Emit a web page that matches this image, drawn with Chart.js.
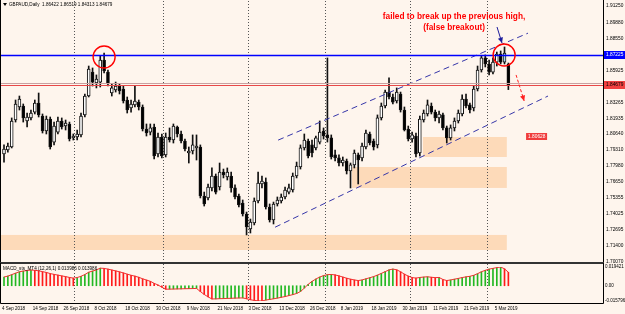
<!DOCTYPE html>
<html>
<head>
<meta charset="utf-8">
<script src="https://cdn.jsdelivr.net/npm/chart.js@4.4.1/dist/chart.umd.min.js"></script>
<style>
html, body { margin: 0; padding: 0; background: #FEF5ED; overflow: hidden; }
#wrap { position: relative; width: 625px; height: 314px; background: #FEF5ED; }
#main { position: absolute; left: 0; top: 0; }
#macd { position: absolute; left: 0; top: 263px; }
</style>
</head>
<body>
<div id="wrap">
  <canvas id="main" width="625" height="264"></canvas>
  <canvas id="macd" width="625" height="51"></canvas>
</div>
<script>
// GBPAUD daily, 4 Sep 2018 .. 8 Mar 2019 (132 bars)
const opens = [1.7897,1.7930,1.7955,1.8179,1.8287,1.8295,1.8171,1.8196,1.8245,1.8320,
  1.8212,1.8088,1.8187,1.7996,1.8079,1.8171,1.8129,1.8146,1.8030,1.8038,
  1.8055,1.8221,1.8378,1.8577,1.8486,1.8494,1.8677,1.8577,1.8403,1.8428,
  1.8461,1.8436,1.8345,1.8279,1.8304,1.8328,1.8287,1.8104,1.8079,1.8121,
  1.7897,1.8038,1.7889,1.8038,1.8013,1.8121,1.8063,1.8005,1.7905,1.7922,
  1.7947,1.7955,1.7548,1.7532,1.7615,1.7714,1.7623,1.7747,1.7706,1.7714,
  1.7615,1.7548,1.7490,1.7399,1.7274,1.7324,1.7507,1.7648,1.7664,1.7457,
  1.7349,1.7482,1.7507,1.7540,1.7581,1.7598,1.7714,1.7789,1.7947,1.8005,
  1.7972,1.7947,1.7996,1.8088,1.8055,1.8030,1.7889,1.7864,1.7822,1.7839,
  1.7756,1.7806,1.7889,1.7864,1.7955,1.8063,1.8005,1.7972,1.8196,1.8295,
  1.8411,1.8370,1.8337,1.8395,1.8262,1.8104,1.8021,1.8046,1.7905,1.8179,
  1.8229,1.8295,1.8245,1.8196,1.8221,1.8113,1.8030,1.8113,1.8171,1.8229,
  1.8353,1.8304,1.8279,1.8436,1.8594,1.8694,1.8644,1.8577,1.8660,1.8727,
  1.8660,1.86422];
const highs = [1.7972,1.7988,1.8196,1.8345,1.8378,1.8312,1.8237,1.8262,1.8345,1.8403,
  1.8229,1.8212,1.8204,1.8162,1.8204,1.8196,1.8179,1.8162,1.8063,1.8096,
  1.8237,1.8395,1.8627,1.8611,1.8553,1.8710,1.8735,1.8594,1.8478,1.8494,
  1.8478,1.8461,1.8370,1.8345,1.8461,1.8345,1.8304,1.8146,1.8146,1.8146,
  1.8071,1.8063,1.8071,1.8113,1.8146,1.8129,1.8088,1.8021,1.7955,1.8055,
  1.8055,1.7972,1.7581,1.7648,1.7781,1.7731,1.7822,1.7772,1.7781,1.7747,
  1.7640,1.7565,1.7515,1.7415,1.7357,1.7532,1.7747,1.7714,1.7698,1.7482,
  1.7498,1.7540,1.7565,1.7623,1.7648,1.7739,1.7830,1.7972,1.8063,1.8021,
  1.8013,1.8046,1.8171,1.8113,1.8694,1.8055,1.7930,1.7889,1.7872,1.7855,
  1.7822,1.7930,1.7905,1.7988,1.8096,1.8079,1.8021,1.8221,1.8320,1.8428,
  1.8528,1.8395,1.8445,1.8411,1.8287,1.8129,1.8079,1.8071,1.8212,1.8262,
  1.8345,1.8320,1.8262,1.8254,1.8237,1.8129,1.8138,1.8196,1.8262,1.8387,
  1.8395,1.8320,1.8461,1.8627,1.8710,1.8719,1.8677,1.8694,1.8743,1.8752,
  1.8785,1.86519];
const lows = [1.7830,1.7913,1.7947,1.8162,1.8262,1.8162,1.8121,1.8179,1.8229,1.8204,
  1.8071,1.8063,1.7938,1.7972,1.8063,1.8104,1.8096,1.8005,1.8013,1.8013,
  1.8038,1.8204,1.8370,1.8461,1.8445,1.8453,1.8569,1.8461,1.8378,1.8411,
  1.8395,1.8320,1.8237,1.8245,1.8287,1.8262,1.8088,1.8046,1.8055,1.7855,
  1.7872,1.7864,1.7872,1.7996,1.7988,1.8038,1.7988,1.7922,1.7822,1.7897,
  1.7847,1.7532,1.7465,1.7515,1.7590,1.7565,1.7598,1.7698,1.7681,1.7581,
  1.7523,1.7457,1.7382,1.7225,1.7241,1.7308,1.7490,1.7615,1.7440,1.7332,
  1.7316,1.7465,1.7490,1.7523,1.7565,1.7581,1.7698,1.7772,1.7930,1.7864,
  1.7872,1.7930,1.7980,1.8021,1.7996,1.7855,1.7839,1.7797,1.7797,1.7731,
  1.7615,1.7781,1.7648,1.7839,1.7938,1.7972,1.7930,1.7947,1.8179,1.8279,
  1.8353,1.8312,1.8320,1.8245,1.8088,1.8005,1.7996,1.7872,1.7880,1.8162,
  1.8212,1.8229,1.8171,1.8154,1.8096,1.7988,1.8013,1.8088,1.8154,1.8212,
  1.8279,1.8237,1.8254,1.8420,1.8577,1.8619,1.8553,1.8561,1.8627,1.8644,
  1.8644,1.84313];
const closes = [1.7938,1.7963,1.8171,1.8312,1.8353,1.8196,1.8204,1.8237,1.8320,1.8221,
  1.8088,1.8187,1.7955,1.8129,1.8171,1.8121,1.8154,1.8021,1.8046,1.8063,
  1.8212,1.8378,1.8602,1.8494,1.8519,1.8677,1.8586,1.8478,1.8445,1.8461,
  1.8420,1.8337,1.8262,1.8312,1.8337,1.8287,1.8104,1.8071,1.8113,1.7880,
  1.8038,1.7880,1.8038,1.8013,1.8129,1.8063,1.8005,1.7938,1.7922,1.7972,
  1.7963,1.7548,1.7482,1.7623,1.7714,1.7581,1.7747,1.7723,1.7747,1.7615,
  1.7540,1.7474,1.7399,1.7291,1.7332,1.7507,1.7656,1.7673,1.7457,1.7349,
  1.7482,1.7515,1.7540,1.7598,1.7615,1.7714,1.7797,1.7947,1.8013,1.7880,
  1.7905,1.8030,1.8079,1.8046,1.8030,1.7872,1.7864,1.7822,1.7847,1.7756,
  1.7806,1.7905,1.7847,1.7963,1.8071,1.7988,1.7955,1.8196,1.8295,1.8411,
  1.8370,1.8328,1.8411,1.8262,1.8096,1.8021,1.8055,1.7897,1.8187,1.8237,
  1.8304,1.8245,1.8196,1.8229,1.8113,1.8030,1.8113,1.8171,1.8237,1.8353,
  1.8295,1.8262,1.8436,1.8594,1.8694,1.8644,1.8577,1.8660,1.8727,1.8660,
  1.8735,1.84679];
const macdVals = [0.0090,0.0100,0.0115,0.0130,0.0145,0.0152,0.0158,0.0163,0.0160,0.0155,
  0.0146,0.0138,0.0126,0.0118,0.0110,0.0102,0.0095,0.0086,0.0079,0.0085,
  0.0098,0.0116,0.0140,0.0152,0.0164,0.0182,0.0180,0.0172,0.0163,0.0154,
  0.0144,0.0133,0.0120,0.0109,0.0099,0.0088,0.0072,0.0059,0.0046,0.0025,
  0.0008,-0.0015,-0.0036,-0.0035,-0.0034,-0.0033,-0.0032,-0.0031,-0.0030,-0.0029,
  -0.0028,-0.0060,-0.0090,-0.0115,-0.0137,-0.0136,-0.0134,-0.0133,-0.0131,-0.0130,
  -0.0128,-0.0127,-0.0126,-0.0135,-0.0145,-0.0152,-0.0156,-0.015796,-0.0148,-0.0142,
  -0.0135,-0.0128,-0.0120,-0.0112,-0.0102,-0.0092,-0.0080,-0.0060,-0.0025,0.0015,
  0.0045,0.0070,0.0090,0.0105,0.0115,0.0117,0.0112,0.0102,0.0090,0.0078,
  0.0068,0.0060,0.0054,0.0060,0.0072,0.0083,0.0095,0.0110,0.0128,0.0146,
  0.0164,0.0173,0.0165,0.0145,0.0120,0.0100,0.0085,0.0079,0.0086,0.0090,
  0.0093,0.0088,0.0084,0.0086,0.0065,0.0054,0.0060,0.0068,0.0076,0.0085,
  0.0092,0.0098,0.0108,0.0125,0.0145,0.0160,0.0172,0.0180,0.0188,0.019421,
  0.0175,0.013986];

const priceTicks = [1.91250,1.89880,1.88550,1.85925,1.83265,1.81935,1.80640,1.79310,
  1.77980,1.76650,1.75355,1.74025,1.72695,1.71400,1.70070];
const macdTicks = [0.019421, 0, -0.015796];
const dateLabels = ['4 Sep 2018','14 Sep 2018','26 Sep 2018','8 Oct 2018','18 Oct 2018',
  '30 Oct 2018','9 Nov 2018','21 Nov 2018','3 Dec 2018','13 Dec 2018','26 Dec 2018',
  '8 Jan 2019','18 Jan 2019','30 Jan 2019','11 Feb 2019','21 Feb 2019','5 Mar 2019'];
const dateIdx = [0,8,16,24,32,40,48,56,64,72,80,88,96,104,112,120,128];

// objects drawn on the chart (bar index / price)
const gridIdx = [18.2, 41.3, 63.4, 83.4, 105.5, 125.5];
const zones = [[108.8, 130.6, 1.8038, 1.7872], [90.4, 130.6, 1.7789, 1.7615], [-0.8, 130.6, 1.7225, 1.7100]];
const chanLower = [[70.4, 1.7289], [141.3, 1.8378]];
const chanUpper = [[71.2, 1.8012], [136.1, 1.8900]];
const resistance = 1.87225;
const markLevel = 1.8486;
const circles = [[26, 1.8702], [129.9, 1.8719]];
const blueArrow = [[128.05, 1.8951], [129.35, 1.8818]];
const redArrow = [[133.0, 1.8553], [135.1, 1.8337]];
const noteLines = ['failed to break up the previous high,', '(false breakout)'];
const notePos = [[116.9, 1.9034], [116.9, 1.8943]];
const tagPos = [135.6, 1.8034];
const tagText = '1.80628';

const xMin = -0.78, xMax = 155.58;
const last = closes.length - 1;

Chart.defaults.font.family = '"Liberation Sans", Arial, sans-serif';
Chart.defaults.color = '#000';

function noPad(s) { s.paddingTop = 0; s.paddingBottom = 0; s.paddingLeft = 0; s.paddingRight = 0; }

function drawArrow(ctx, x0, y0, x1, y1, color, dash) {
    ctx.save();
    ctx.strokeStyle = color;
    ctx.fillStyle = color;
    ctx.lineWidth = 1;
    ctx.setLineDash(dash);
    ctx.beginPath();
    ctx.moveTo(x0, y0);
    ctx.lineTo(x1, y1);
    ctx.stroke();
    ctx.setLineDash([]);
    const ang = Math.atan2(y1 - y0, x1 - x0), h = 6;
    ctx.beginPath();
    ctx.moveTo(x1, y1);
    ctx.lineTo(x1 - h * Math.cos(ang - 0.45), y1 - h * Math.sin(ang - 0.45));
    ctx.lineTo(x1 - h * Math.cos(ang + 0.45), y1 - h * Math.sin(ang + 0.45));
    ctx.closePath();
    ctx.fill();
    ctx.restore();
}

function drawGrid(chart, top, bottom) {
    const {ctx, scales: {x}} = chart;
    ctx.save();
    ctx.strokeStyle = '#555';
    ctx.lineWidth = 1;
    ctx.setLineDash([1, 2]);
    gridIdx.forEach(g => {
        const gx = Math.round(x.getPixelForValue(g)) + 0.5;
        ctx.beginPath();
        ctx.moveTo(gx, top);
        ctx.lineTo(gx, bottom);
        ctx.stroke();
    });
    ctx.restore();
}

function axisTag(ctx, yy, text, bg, fg) {
    ctx.fillStyle = bg;
    ctx.fillRect(604, Math.round(yy) - 4, 21, 8);
    ctx.fillStyle = fg;
    ctx.font = '4.8px "Liberation Sans"';
    ctx.textAlign = 'left';
    ctx.textBaseline = 'middle';
    ctx.fillText(text, 606, Math.round(yy));
}

const mainDecor = {
    id: 'mainDecor',
    beforeDatasetsDraw(chart) {
        const {ctx, chartArea: a, scales: {x, y}} = chart;
        ctx.save();
        ctx.fillStyle = '#FDDAB9';
        zones.forEach(z => {
            const x0 = Math.max(a.left, x.getPixelForValue(z[0]));
            const x1 = x.getPixelForValue(z[1]);
            const y0 = y.getPixelForValue(z[2]);
            const y1 = y.getPixelForValue(z[3]);
            ctx.fillRect(x0, y0, x1 - x0, y1 - y0);
        });
        ctx.restore();
        drawGrid(chart, a.top, a.bottom);
    },
    afterDatasetsDraw(chart) {
        const {ctx, chartArea: a, scales: {x, y}} = chart;
        ctx.save();
        // horizontal levels, snapped to whole pixels
        const hl = (v, color, w) => {
            const yy = Math.round(y.getPixelForValue(v)) + 0.5;
            ctx.strokeStyle = color;
            ctx.lineWidth = w;
            ctx.beginPath();
            ctx.moveTo(a.left, yy);
            ctx.lineTo(a.right, yy);
            ctx.stroke();
        };
        hl(markLevel, '#C9A0A0', 1);
        hl(closes[last], '#E84848', 1);
        hl(resistance, '#0000FF', 1.5);

        // circles round the two highs
        ctx.strokeStyle = '#FF0000';
        ctx.lineWidth = 1.4;
        circles.forEach(c => {
            ctx.beginPath();
            ctx.arc(x.getPixelForValue(c[0]), y.getPixelForValue(c[1]), 11, 0, Math.PI * 2);
            ctx.stroke();
        });

        drawArrow(ctx, x.getPixelForValue(blueArrow[0][0]), y.getPixelForValue(blueArrow[0][1]),
            x.getPixelForValue(blueArrow[1][0]), y.getPixelForValue(blueArrow[1][1]), '#1C1C9C', []);
        drawArrow(ctx, x.getPixelForValue(redArrow[0][0]), y.getPixelForValue(redArrow[0][1]),
            x.getPixelForValue(redArrow[1][0]), y.getPixelForValue(redArrow[1][1]), '#FF2020', [3, 2]);

        // note
        ctx.fillStyle = '#FF0000';
        ctx.font = 'bold 8.3px "Liberation Sans"';
        ctx.textAlign = 'center';
        ctx.textBaseline = 'middle';
        noteLines.forEach((t, i) => {
            ctx.fillText(t, x.getPixelForValue(notePos[i][0]), y.getPixelForValue(notePos[i][1]));
        });

        // price tag of an object
        const tx = x.getPixelForValue(tagPos[0]), ty = Math.round(y.getPixelForValue(tagPos[1]));
        ctx.fillStyle = '#F03C3C';
        ctx.fillRect(tx, ty - 4, 21, 7);
        ctx.fillStyle = '#FFFFFF';
        ctx.font = '4.8px "Liberation Sans"';
        ctx.textAlign = 'left';
        ctx.fillText(tagText, tx + 2, ty);

        // right axis tags
        axisTag(ctx, y.getPixelForValue(resistance), resistance.toFixed(5), '#0000FF', '#FFFFFF');
        axisTag(ctx, y.getPixelForValue(closes[last]), closes[last].toFixed(5), '#F04040', '#000000');

        // frame
        ctx.strokeStyle = '#000';
        ctx.lineWidth = 1;
        ctx.beginPath();
        ctx.moveTo(0.5, 0);
        ctx.lineTo(0.5, 264);
        ctx.moveTo(a.right + 0.5, 0);
        ctx.lineTo(a.right + 0.5, 264);
        ctx.stroke();
        ctx.strokeStyle = '#333';
        ctx.lineWidth = 2;
        ctx.beginPath();
        ctx.moveTo(0, 263);
        ctx.lineTo(a.right + 1, 263);
        ctx.stroke();

        // title
        ctx.fillStyle = '#000';
        ctx.beginPath();
        ctx.moveTo(3, 3);
        ctx.lineTo(7, 3);
        ctx.lineTo(5, 6);
        ctx.closePath();
        ctx.fill();
        ctx.font = '4.6px "Liberation Sans"';
        ctx.textAlign = 'left';
        ctx.textBaseline = 'middle';
        ctx.fillText('GBPAUD,Daily  ' + [opens[last], highs[last], lows[last], closes[last]].map(v => v.toFixed(5)).join(' '), 9, 5);
        ctx.restore();
    }
};

const macdDecor = {
    id: 'macdDecor',
    beforeDatasetsDraw(chart) {
        drawGrid(chart, 1, 40);
    },
    afterDatasetsDraw(chart) {
        const {ctx, chartArea: a} = chart;
        ctx.save();
        ctx.strokeStyle = '#000';
        ctx.lineWidth = 1;
        ctx.beginPath();
        ctx.moveTo(0.5, 0);
        ctx.lineTo(0.5, 40.5);
        ctx.lineTo(a.right + 0.5, 40.5);
        ctx.lineTo(a.right + 0.5, 0);
        ctx.stroke();
        ctx.fillStyle = '#000';
        ctx.font = '4.6px "Liberation Sans"';
        ctx.textAlign = 'left';
        ctx.textBaseline = 'middle';
        const v = macdVals[last].toFixed(6);
        ctx.fillText('MACD_sts_MT4 (12,26,1) ' + v + ' ' + v, 3, 6);
        ctx.restore();
    }
};

const idx = closes.map((_, i) => i);
const bodyColors = idx.map(i => i === last - 1 ? '#A9D6F0' : (closes[i] >= opens[i] ? '#FFFFFF' : '#000000'));
const macdColors = idx.map(i => (i === 0 || macdVals[i] >= macdVals[i - 1]) ? '#22B822' : '#FF1A1A');

new Chart(document.getElementById('main'), {
    type: 'bar',
    data: {
        datasets: [
            { type: 'line', data: chanLower.map(p => ({x: p[0], y: p[1]})), borderColor: '#3535A8', borderWidth: 1, borderDash: [6, 4], pointRadius: 0, order: 0 },
            { type: 'line', data: chanUpper.map(p => ({x: p[0], y: p[1]})), borderColor: '#3535A8', borderWidth: 1, borderDash: [6, 4], pointRadius: 0, order: 0 },
            { data: idx.map(i => ({x: i, y: [opens[i], closes[i]]})), backgroundColor: bodyColors, borderColor: '#111', borderWidth: 1, borderSkipped: false, barThickness: 3, stack: 'c', order: 1 },
            { data: idx.map(i => ({x: i, y: [lows[i], highs[i]]})), backgroundColor: '#111', barThickness: 1, stack: 'c', order: 2 }
        ]
    },
    options: {
        responsive: false,
        animation: false,
        devicePixelRatio: 1,
        layout: { padding: { left: 1, top: 1, right: 0, bottom: 2 } },
        plugins: { legend: { display: false }, tooltip: { enabled: false } },
        scales: {
            x: { type: 'linear', min: xMin, max: xMax, display: false, offset: false },
            y: {
                position: 'right', min: 1.70004, max: 1.91667, stacked: false, beginAtZero: false,
                afterBuildTicks: s => { s.ticks = priceTicks.map(v => ({value: v})); },
                afterFit: s => { s.width = 22; noPad(s); },
                grid: { display: false, drawTicks: false },
                border: { display: false },
                ticks: { autoSkip: false, padding: 3, font: { size: 4.8 }, color: '#000', callback: v => v.toFixed(5) }
            }
        }
    },
    plugins: [mainDecor]
});

new Chart(document.getElementById('macd'), {
    type: 'bar',
    data: {
        datasets: [
            { type: 'line', data: idx.map(i => ({x: i, y: macdVals[i]})), borderColor: '#F03030', borderWidth: 1, pointRadius: 0, order: 0 },
            { data: idx.map(i => ({x: i, y: macdVals[i]})), backgroundColor: macdColors, barThickness: 1, order: 1 }
        ]
    },
    options: {
        responsive: false,
        animation: false,
        devicePixelRatio: 1,
        layout: { padding: { left: 1, top: 4, right: 0, bottom: 0 } },
        plugins: { legend: { display: false }, tooltip: { enabled: false } },
        scales: {
            x: {
                type: 'linear', min: xMin, max: xMax, offset: false,
                afterBuildTicks: s => { s.ticks = dateIdx.map(v => ({value: v})); },
                afterFit: s => { s.height = 13; noPad(s); },
                grid: { display: false, drawTicks: false },
                border: { display: false },
                ticks: { autoSkip: false, maxRotation: 0, minRotation: 0, align: 'start', labelOffset: -2, padding: 5,
                    font: { size: 4.5 }, color: '#000', callback: (v, i) => dateLabels[i] }
            },
            y: {
                position: 'right', min: macdTicks[2], max: macdTicks[0], beginAtZero: false,
                afterBuildTicks: s => { s.ticks = macdTicks.map(v => ({value: v})); },
                afterFit: s => { s.width = 22; noPad(s); },
                grid: { display: false, drawTicks: false },
                border: { display: false },
                ticks: { autoSkip: false, padding: 2, font: { size: 4.5 }, color: '#000', callback: v => v === 0 ? '0.00' : v.toFixed(6) }
            }
        }
    },
    plugins: [macdDecor]
});
</script>
</body>
</html>
